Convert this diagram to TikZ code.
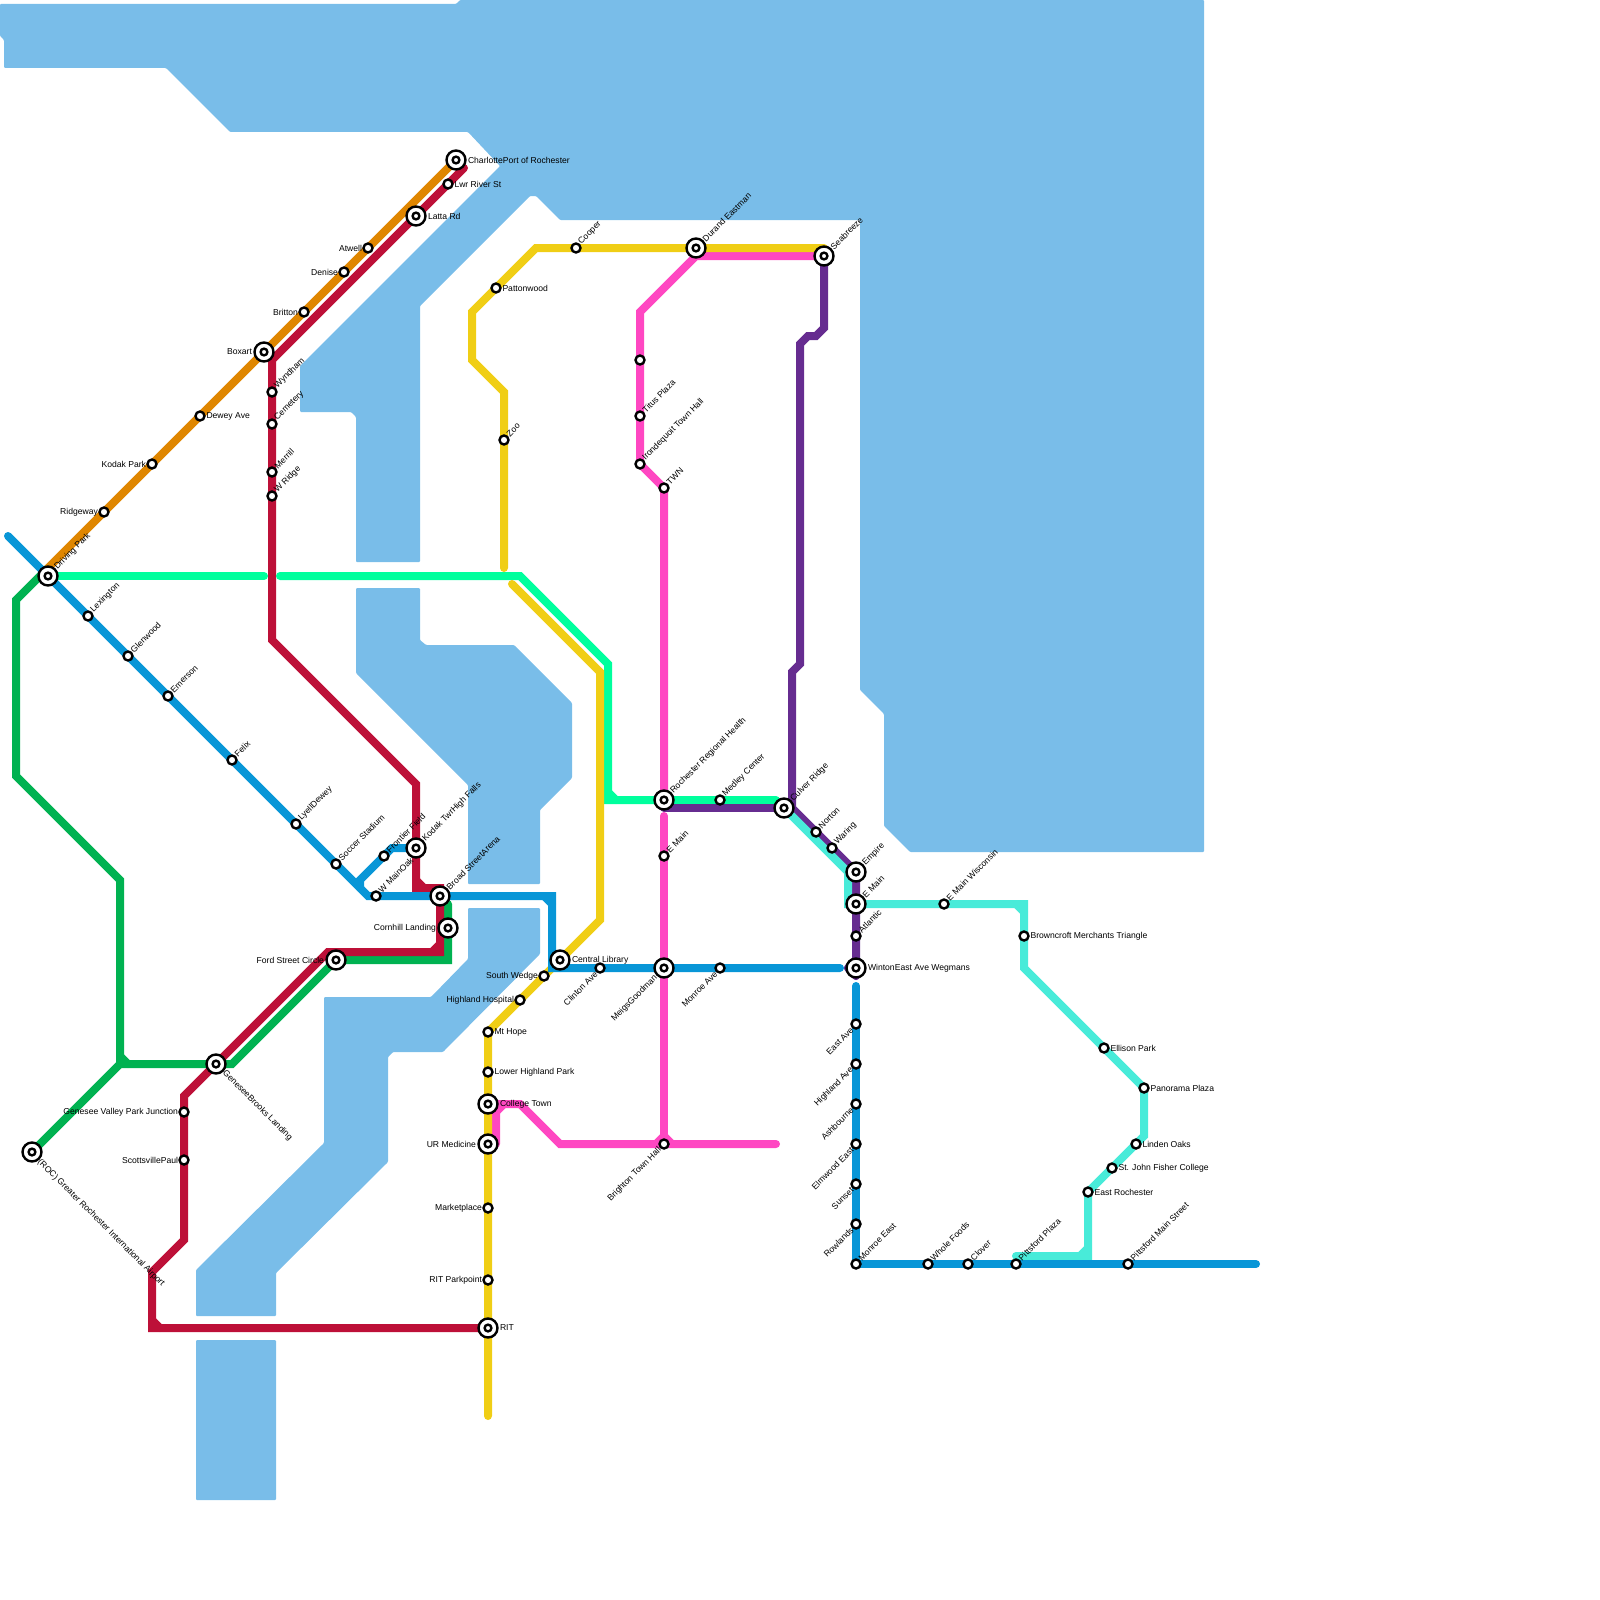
\documentclass[tikz,border=0pt]{standalone}
\usepackage{fontspec}
\setmainfont{Liberation Sans}
\usetikzlibrary{positioning,backgrounds}

\definecolor{water}{HTML}{79BDE9}
\definecolor{redline}{HTML}{BD1038}
\definecolor{orangeline}{HTML}{DF8600}
\definecolor{yellowline}{HTML}{F0CE15}
\definecolor{greenline}{HTML}{00B251}
\definecolor{mintline}{HTML}{00FF9D}
\definecolor{blueline}{HTML}{0896D7}
\definecolor{pinkline}{HTML}{FF47C2}
\definecolor{purpleline}{HTML}{662C90}
\definecolor{turqline}{HTML}{48EBD9}

\begin{document}
\begin{tikzpicture}[x=1pt,y=-1pt]
        \tikzset{
            stop/.style={circle, draw=black, fill=white, line width=2.4pt, inner sep=0pt, minimum size=9pt},
            hub/.style={circle, draw=black, fill=white, line width=2.4pt, inner sep=0pt, minimum size=19pt,
                path picture={\draw[line width=2.4pt] (path picture bounding box.center) circle[radius=3.4pt];}},
            txt/.style={font=\fontsize{8.6}{10}\selectfont, inner sep=0pt, outer sep=0pt, text=black},
            lbe/.style={txt, anchor=west},
            lbw/.style={txt, anchor=east},
            lbne/.style={txt, rotate=45, anchor=west},
            lbsw/.style={txt, rotate=45, anchor=east},
            lbse/.style={txt, rotate=-45, anchor=west},
            metro/.style={line width=8pt, line cap=round, line join=miter},
            lake/.style={fill=water, draw=none, rounded corners=1pt}
        }
        \useasboundingbox (0,0) rectangle (1600,1600);
        \node[hub] (drivingpark) at (48,576) {};
        \node[stop] (ridgeway) at (104,512) {};
        \node[stop] (kodakpark) at (152,464) {};
        \node[stop] (dewey) at (200,416) {};
        \node[hub] (boxart) at (264,352) {};
        \node[stop] (britton) at (304,312) {};
        \node[stop] (denise) at (344,272) {};
        \node[stop] (atwell) at (368,248) {};
        \node[hub] (charlotte) at (456,160) {};
        \node[stop] (lwrriver) at (448,184) {};
        \node[hub] (latta) at (416,216) {};
        \node[stop] (wyndham) at (272,392) {};
        \node[stop] (cemetery) at (272,424) {};
        \node[stop] (merrill) at (272,472) {};
        \node[stop] (wridge) at (272,496) {};
        \node[hub] (kodaktwr) at (416,848) {};
        \node[stop] (frontier) at (384,856) {};
        \node[stop] (wmain) at (376,896) {};
        \node[hub] (broad) at (440,896) {};
        \node[hub] (cornhill) at (448,928) {};
        \node[hub] (fordst) at (336,960) {};
        \node[hub] (genesee) at (216,1064) {};
        \node[stop] (gvpark) at (184,1112) {};
        \node[stop] (scottsville) at (184,1160) {};
        \node[hub] (airport) at (32,1152) {};
        \node[stop] (lexington) at (88,616) {};
        \node[stop] (glenwood) at (128,656) {};
        \node[stop] (emerson) at (168,696) {};
        \node[stop] (felix) at (232,760) {};
        \node[stop] (lyell) at (296,824) {};
        \node[stop] (soccer) at (336,864) {};
        \node[hub] (library) at (560,960) {};
        \node[stop] (clinton) at (600,968) {};
        \node[hub] (meigs) at (664,968) {};
        \node[stop] (monroeave) at (720,968) {};
        \node[hub] (winton) at (856,968) {};
        \node[stop] (southwedge) at (544,976) {};
        \node[stop] (highlandhosp) at (520,1000) {};
        \node[stop] (mthope) at (488,1032) {};
        \node[stop] (lowerhighland) at (488,1072) {};
        \node[hub] (college) at (488,1104) {};
        \node[hub] (urmed) at (488,1144) {};
        \node[stop] (marketplace) at (488,1208) {};
        \node[stop] (parkpoint) at (488,1280) {};
        \node[hub] (rit) at (488,1328) {};
        \node[stop] (cooper) at (576,248) {};
        \node[stop] (pattonwood) at (496,288) {};
        \node[stop] (zoo) at (504,440) {};
        \node[hub] (durand) at (696,248) {};
        \node[hub] (seabreeze) at (824,256) {};
        \node[stop] (unnamed) at (640,360) {};
        \node[stop] (titus) at (640,416) {};
        \node[stop] (irondequoit) at (640,464) {};
        \node[stop] (twn) at (664,488) {};
        \node[hub] (rochester) at (664,800) {};
        \node[stop] (medley) at (720,800) {};
        \node[hub] (culver) at (784,808) {};
        \node[stop] (emainw) at (664,856) {};
        \node[stop] (brighton) at (664,1144) {};
        \node[stop] (norton) at (816,832) {};
        \node[stop] (waring) at (832,848) {};
        \node[hub] (empire) at (856,872) {};
        \node[hub] (emain) at (856,904) {};
        \node[stop] (atlantic) at (856,936) {};
        \node[stop] (eastave) at (856,1024) {};
        \node[stop] (highlandave) at (856,1064) {};
        \node[stop] (ashbourne) at (856,1104) {};
        \node[stop] (elmwood) at (856,1144) {};
        \node[stop] (sunset) at (856,1184) {};
        \node[stop] (rowlands) at (856,1224) {};
        \node[stop] (monroeeast) at (856,1264) {};
        \node[stop] (wholefoods) at (928,1264) {};
        \node[stop] (clover) at (968,1264) {};
        \node[stop] (pittsplaza) at (1016,1264) {};
        \node[stop] (pittsmain) at (1128,1264) {};
        \node[stop] (wisconsin) at (944,904) {};
        \node[stop] (browncroft) at (1024,936) {};
        \node[stop] (ellison) at (1104,1048) {};
        \node[stop] (panorama) at (1144,1088) {};
        \node[stop] (linden) at (1136,1144) {};
        \node[stop] (fisher) at (1112,1168) {};
        \node[stop] (eastroch) at (1088,1192) {};

        \node[above right=8pt and 8pt of drivingpark.center, lbne] (drivingparkt) {Driving Park};
        \node[left=6pt of ridgeway.center, lbw] (ridgewayt) {Ridgeway};
        \node[left=6pt of kodakpark.center, lbw] (kodakparkt) {Kodak Park};
        \node[right=6.5pt of dewey.center, lbe] (deweyt) {Dewey Ave};
        \node[left=12pt of boxart.center, lbw] (boxartt) {Boxart};
        \node[left=6pt of britton.center, lbw] (brittont) {Britton};
        \node[left=6pt of denise.center, lbw] (deniset) {Denise};
        \node[left=6pt of atwell.center, lbw] (atwellt) {Atwell};
        \node[right=12pt of charlotte.center, lbe] (charlottet) {CharlottePort of Rochester};
        \node[right=6.5pt of lwrriver.center, lbe] (lwrrivert) {Lwr River St};
        \node[right=12pt of latta.center, lbe] (lattat) {Latta Rd};
        \node[above right=5pt and 4pt of wyndham.center, lbne] (wyndhamt) {Wyndham};
        \node[above right=5pt and 4pt of cemetery.center, lbne] (cemeteryt) {Cemetery};
        \node[above right=5pt and 4pt of merrill.center, lbne] (merrillt) {Merrill};
        \node[above right=5pt and 4pt of wridge.center, lbne] (wridget) {W Ridge};
        \node[above right=8pt and 8pt of kodaktwr.center, lbne] (kodaktwrt) {Kodak TwrHigh Falls};
        \node[above right=5pt and 4pt of frontier.center, lbne] (frontiert) {Frontier Field};
        \node[above right=5pt and 4pt of wmain.center, lbne] (wmaint) {W MainOak};
        \node[above right=8pt and 8pt of broad.center, lbne] (broadt) {Broad StreetArena};
        \node[left=12pt of cornhill.center, lbw] (cornhillt) {Cornhill Landing};
        \node[left=12pt of fordst.center, lbw] (fordstt) {Ford Street Circle};
        \node[below right=8pt and 8pt of genesee.center, lbse] (geneseet) {GeneseeBrooks Landing};
        \node[left=6pt of gvpark.center, lbw] (gvparkt) {Genesee Valley Park Junction};
        \node[left=6pt of scottsville.center, lbw] (scottsvillet) {ScottsvillePaul};
        \node[below right=9pt and 7pt of airport.center, lbse] (airportt) {(ROC) Greater Rochester International Airport};
        \node[above right=5pt and 4pt of lexington.center, lbne] (lexingtont) {Lexington};
        \node[above right=5pt and 4pt of glenwood.center, lbne] (glenwoodt) {Glenwood};
        \node[above right=5pt and 4pt of emerson.center, lbne] (emersont) {Emerson};
        \node[above right=5pt and 4pt of felix.center, lbne] (felixt) {Felix};
        \node[above right=5pt and 4pt of lyell.center, lbne] (lyellt) {LyellDewey};
        \node[above right=5pt and 4pt of soccer.center, lbne] (soccert) {Soccer Stadium};
        \node[right=12pt of library.center, lbe] (libraryt) {Central Library};
        \node[below left=5pt and 4pt of clinton.center, lbsw] (clintont) {Clinton Ave};
        \node[below left=9pt and 8pt of meigs.center, lbsw] (meigst) {MeigsGoodman};
        \node[below left=5pt and 4pt of monroeave.center, lbsw] (monroeavet) {Monroe Ave};
        \node[right=12pt of winton.center, lbe] (wintont) {WintonEast Ave Wegmans};
        \node[left=6pt of southwedge.center, lbw] (southwedget) {South Wedge};
        \node[left=6pt of highlandhosp.center, lbw] (highlandhospt) {Highland Hospital};
        \node[right=6.5pt of mthope.center, lbe] (mthopet) {Mt Hope};
        \node[right=6.5pt of lowerhighland.center, lbe] (lowerhighlandt) {Lower Highland Park};
        \node[right=12pt of college.center, lbe] (colleget) {College Town};
        \node[left=12pt of urmed.center, lbw] (urmedt) {UR Medicine};
        \node[left=6pt of marketplace.center, lbw] (marketplacet) {Marketplace};
        \node[left=6pt of parkpoint.center, lbw] (parkpointt) {RIT Parkpoint};
        \node[right=12pt of rit.center, lbe] (ritt) {RIT};
        \node[above right=5pt and 4pt of cooper.center, lbne] (coopert) {Cooper};
        \node[right=6.5pt of pattonwood.center, lbe] (pattonwoodt) {Pattonwood};
        \node[above right=5pt and 4pt of zoo.center, lbne] (zoot) {Zoo};
        \node[above right=8pt and 8pt of durand.center, lbne] (durandt) {Durand Eastman};
        \node[above right=8pt and 8pt of seabreeze.center, lbne] (seabreezet) {Seabreeze};
        \node[above right=5pt and 4pt of titus.center, lbne] (titust) {Titus Plaza};
        \node[above right=5pt and 4pt of irondequoit.center, lbne] (irondequoitt) {Irondequoit Town Hall};
        \node[above right=5pt and 4pt of twn.center, lbne] (twnt) {TWN};
        \node[above right=8pt and 8pt of rochester.center, lbne] (rochestert) {Rochester Regional Health};
        \node[above right=5pt and 4pt of medley.center, lbne] (medleyt) {Medley Center};
        \node[above right=8pt and 8pt of culver.center, lbne] (culvert) {Culver Ridge};
        \node[above right=5pt and 4pt of emainw.center, lbne] (emainwt) {E Main};
        \node[below left=5pt and 4pt of brighton.center, lbsw] (brightont) {Brighton Town Hall};
        \node[above right=5pt and 4pt of norton.center, lbne] (nortont) {Norton};
        \node[above right=5pt and 4pt of waring.center, lbne] (waringt) {Waring};
        \node[above right=8pt and 8pt of empire.center, lbne] (empiret) {Empire};
        \node[above right=8pt and 8pt of emain.center, lbne] (emaint) {E Main};
        \node[above right=5pt and 4pt of atlantic.center, lbne] (atlantict) {Atlantic};
        \node[below left=5pt and 4pt of eastave.center, lbsw] (eastavet) {East Ave};
        \node[below left=5pt and 4pt of highlandave.center, lbsw] (highlandavet) {Highland Ave};
        \node[below left=5pt and 4pt of ashbourne.center, lbsw] (ashbournet) {Ashbourne};
        \node[below left=5pt and 4pt of elmwood.center, lbsw] (elmwoodt) {Elmwood East};
        \node[below left=5pt and 4pt of sunset.center, lbsw] (sunsett) {Sunset};
        \node[below left=5pt and 4pt of rowlands.center, lbsw] (rowlandst) {Rowlands};
        \node[above right=5pt and 4pt of monroeeast.center, lbne] (monroeeastt) {Monroe East};
        \node[above right=5pt and 4pt of wholefoods.center, lbne] (wholefoodst) {Whole Foods};
        \node[above right=5pt and 4pt of clover.center, lbne] (clovert) {Clover};
        \node[above right=5pt and 4pt of pittsplaza.center, lbne] (pittsplazat) {Pittsford Plaza};
        \node[above right=5pt and 4pt of pittsmain.center, lbne] (pittsmaint) {Pittsford Main Street};
        \node[above right=5pt and 4pt of wisconsin.center, lbne] (wisconsint) {E Main Wisconsin};
        \node[right=6.5pt of browncroft.center, lbe] (browncroftt) {Browncroft Merchants Triangle};
        \node[right=6.5pt of ellison.center, lbe] (ellisont) {Ellison Park};
        \node[right=6.5pt of panorama.center, lbe] (panoramat) {Panorama Plaza};
        \node[right=6.5pt of linden.center, lbe] (lindent) {Linden Oaks};
        \node[right=6.5pt of fisher.center, lbe] (fishert) {St. John Fisher College};
        \node[right=6.5pt of eastroch.center, lbe] (eastrocht) {East Rochester};

        \coordinate (orA) at (48,568);
        \coordinate (grA) at (120,1064);
        \coordinate (grB) at (120,880);
        \coordinate (grC) at (16,776);
        \coordinate (grD) at (16,600);
        \coordinate (grE) at (232,1064);
        \coordinate (grF) at (448,960);
        \coordinate (grG) at (448,904);
        \coordinate (rdA) at (464,168);
        \coordinate (rdB) at (272,360);
        \coordinate (rdC) at (272,640);
        \coordinate (rdD) at (416,784);
        \coordinate (rdE) at (416,888);
        \coordinate (rdF) at (440,888);
        \coordinate (rdG) at (440,952);
        \coordinate (rdH) at (328,952);
        \coordinate (rdI) at (184,1096);
        \coordinate (rdJ) at (184,1240);
        \coordinate (rdK) at (152,1272);
        \coordinate (rdL) at (152,1328);
        \coordinate (blA) at (8,536);
        \coordinate (blB) at (368,896);
        \coordinate (blC) at (552,896);
        \coordinate (blD) at (552,968);
        \coordinate (blE) at (840,968);
        \coordinate (blF) at (392,848);
        \coordinate (blG) at (360,880);
        \coordinate (blH) at (360,888);
        \coordinate (blI) at (856,986);
        \coordinate (blJ) at (1256,1264);
        \coordinate (mnA) at (264,576);
        \coordinate (mnB) at (280,576);
        \coordinate (mnC) at (520,576);
        \coordinate (mnD) at (608,664);
        \coordinate (mnE) at (608,800);
        \coordinate (mnF) at (776,800);
        \coordinate (ylA) at (824,248);
        \coordinate (ylB) at (536,248);
        \coordinate (ylC) at (472,312);
        \coordinate (ylD) at (472,360);
        \coordinate (ylE) at (504,392);
        \coordinate (ylF) at (504,568);
        \coordinate (ylG) at (512,584);
        \coordinate (ylH) at (600,672);
        \coordinate (ylI) at (600,920);
        \coordinate (ylJ) at (488,1416);
        \coordinate (pkA) at (696,256);
        \coordinate (pkB) at (640,312);
        \coordinate (pkC) at (664,816);
        \coordinate (pkD) at (776,1144);
        \coordinate (pkE) at (560,1144);
        \coordinate (pkF) at (520,1104);
        \coordinate (pkG) at (496,1104);
        \coordinate (pkH) at (496,1144);
        \coordinate (puA) at (824,328);
        \coordinate (puB) at (816,336);
        \coordinate (puC) at (808,336);
        \coordinate (puD) at (800,344);
        \coordinate (puE) at (800,664);
        \coordinate (puF) at (792,672);
        \coordinate (puG) at (792,808);
        \coordinate (puH) at (856,976);
        \coordinate (tqA) at (848,872);
        \coordinate (tqB) at (848,904);
        \coordinate (tqC) at (1024,904);
        \coordinate (tqD) at (1024,968);
        \coordinate (tqE) at (1144,1136);
        \coordinate (tqF) at (1088,1256);
        \coordinate (tqG) at (1016,1256);

        \begin{scope}[on background layer]
            \fill[lake] (0,4) -- (456,4) -- (460,0) -- (1204,0) -- (1204,852) -- (910,852) -- (884,826) -- (884,714) -- (860,690) -- (860,220) -- (560,220) -- (536,196) -- (530,196) -- (420,306) -- (420,562) -- (356,562) -- (356,417) -- (351,412) -- (300,412) -- (300,366) -- (500,166) -- (468,132) -- (230,132) -- (166,68) -- (4,68) -- (4,40) -- (0,36) -- cycle;
            \fill[lake] (356,588) -- (420,588) -- (420,640) -- (426,645) -- (514,645) -- (572,703) -- (572,778) -- (540,810) -- (540,884) -- (468,884) -- (468,785) -- (356,673) -- cycle;
            \fill[lake] (468,908) -- (540,908) -- (540,954) -- (443,1052) -- (393,1052) -- (388,1057) -- (388,1162) -- (276,1273) -- (276,1316) -- (196,1316) -- (196,1270) -- (324,1143) -- (324,997) -- (431,997) -- (468,959) -- cycle;
            \fill[lake] (196,1340) rectangle (276,1500);

            \draw[metro, greenline] (orA) -- (grD) -- (grC) -- (grB) -- (grA) -- (airport.center);
            \draw[metro, greenline] (grA) -- (genesee.center) -- (grE) -- (fordst.center) -- (grF) -- (cornhill.center) -- (grG);
            \draw[metro, greenline] (grA) ++(0,-8) -- ++(8,8);

            \draw[metro, redline] (rdA) -- (lwrriver.center) -- (latta.center) -- (rdB) -- (wyndham.center) -- (cemetery.center) -- (merrill.center) -- (wridge.center) -- (rdC) -- (rdD) -- (kodaktwr.center) -- (rdE) -- (rdF) -- (rdG) -- (rdH) -- (genesee.center) -- (rdI) -- (gvpark.center) -- (scottsville.center) -- (rdJ) -- (rdK) -- (rdL) -- (rit.center);
            \draw[metro, redline] (rdE) ++(0,-8) -- ++(8,8);
            \draw[metro, redline] (rdG) ++(0,-8) -- ++(-8,8);
            \draw[metro, redline] (rdL) ++(0,-8) -- ++(8,8);

            \draw[metro, orangeline] (orA) -- (ridgeway.center) -- (kodakpark.center) -- (dewey.center) -- (boxart.center) -- (britton.center) -- (denise.center) -- (atwell.center) -- (charlotte.center);

            \draw[metro, mintline] (drivingpark.center) -- (mnA);
            \draw[metro, mintline] (mnB) -- (mnC) -- (mnD) -- (mnE) -- (rochester.center) -- (medley.center) -- (mnF);
            \draw[metro, mintline] (mnE) ++(0,-8) -- ++(8,8);

            \draw[metro, purpleline] (seabreeze.center) -- (puA) -- (puB) -- (puC) -- (puD) -- (puE) -- (puF) -- (puG) -- (norton.center) -- (waring.center) -- (empire.center) -- (emain.center) -- (atlantic.center) -- (winton.center) -- (puH);
            \draw[metro, purpleline] (rochester.center) ++(0,8) -- (culver.center);
            \draw[metro, purpleline] (winton.center) ++(-8,0) -- ++(8,-8);
            \draw[metro, purpleline] (winton.center) ++(-8,0) -- ++(8,8);

            \draw[metro, pinkline] (seabreeze.center) -- (pkA) -- (pkB) -- (unnamed.center) -- (titus.center) -- (irondequoit.center) -- (twn.center) -- (rochester.center);
            \draw[metro, pinkline] (pkC) -- (emainw.center) -- (meigs.center) -- (brighton.center);
            \draw[metro, pinkline] (pkD) -- (pkE) -- (pkF) -- (pkG) -- (pkH);
            \draw[metro, pinkline] (pkG) ++(0,8) -- ++(8,-8);
            \draw[metro, pinkline] (brighton.center) ++(-8,0) -- ++(8,-8) -- ++(8,8);

            \draw[metro, yellowline] (ylA) -- (durand.center) -- (cooper.center) -- (ylB) -- (pattonwood.center) -- (ylC) -- (ylD) -- (ylE) -- (zoo.center) -- (ylF);
            \draw[metro, yellowline] (ylG) -- (ylH) -- (ylI) -- (library.center) -- (southwedge.center) -- (highlandhosp.center) -- (mthope.center) -- (lowerhighland.center) -- (college.center) -- (urmed.center) -- (marketplace.center) -- (parkpoint.center) -- (rit.center) -- (ylJ);

            \draw[metro, turqline] (culver.center) -- (tqA) -- (tqB) -- (emain.center) -- (wisconsin.center) -- (tqC) -- (browncroft.center) -- (tqD) -- (ellison.center) -- (panorama.center) -- (tqE) -- (linden.center) -- (fisher.center) -- (eastroch.center) -- (tqF) -- (tqG);
            \draw[metro, turqline] (tqC) ++(-8,0) -- ++(8,8);
            \draw[metro, turqline] (tqF) ++(-8,0) -- ++(8,-8);

            \draw[metro, blueline] (blA) -- (drivingpark.center) -- (lexington.center) -- (glenwood.center) -- (emerson.center) -- (felix.center) -- (lyell.center) -- (soccer.center) -- (blB) -- (wmain.center) -- (broad.center) -- (blC) -- (blD) -- (clinton.center) -- (meigs.center) -- (monroeave.center) -- (blE);
            \draw[metro, blueline] (kodaktwr.center) -- (blF) -- (frontier.center) -- (blG) -- (blH);
            \draw[metro, blueline] (blC) ++(-8,0) -- ++(8,8);
            \draw[metro, blueline] (blD) ++(0,-8) -- ++(8,8);
            \draw[metro, blueline] (blI) -- (eastave.center) -- (highlandave.center) -- (ashbourne.center) -- (elmwood.center) -- (sunset.center) -- (rowlands.center) -- (monroeeast.center) -- (wholefoods.center) -- (clover.center) -- (pittsplaza.center) -- (pittsmain.center) -- (blJ);
        \end{scope}
    \end{tikzpicture}
\end{document}
